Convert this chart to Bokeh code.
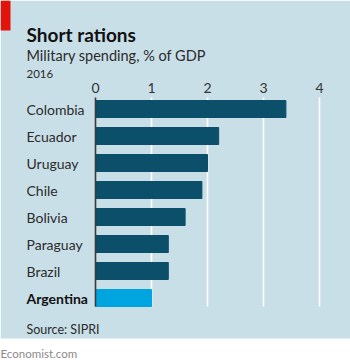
from bokeh.plotting import figure
from bokeh.models import Range1d, Label, BoxAnnotation, ColumnDataSource
from bokeh.embed import file_html
from bokeh.resources import INLINE
from bokeh.core.properties import value

# ---- data ----
countries = ["Colombia", "Ecuador", "Uruguay", "Chile", "Bolivia", "Paraguay", "Brazil", "Argentina"]
spending = [3.4, 2.2, 2.0, 1.9, 1.6, 1.3, 1.3, 1.0]
highlight = "Argentina"
tick_values = [0, 1, 2, 3, 4]
tick_labels = ["0", "1", "2", "3", "4"]

title_text = "Short rations"
subtitle_text = "Military spending, % of GDP"
year_text = "2016"
source_text = "Source: SIPRI"
credit_text = "Economist.com"

# ---- style / layout ----
W, H = 350, 360
X0_PX, PX_PER_UNIT = 95, 56          # pixel of value 0, pixels per unit
ROW0_PX, ROW_PX = 108.5, 27          # pixel centre of first row, row pitch
BAR_PX = 17
FONT = "Lato"
BG = "#c9dfe8"
DARK = "#0b4f6b"
LIGHT = "#00a5df"
RED = "#e3120b"

def vx(px):
    return (px - X0_PX) / PX_PER_UNIT

def vy(py):
    return (py - ROW0_PX) / ROW_PX

p = figure(width=W, height=H, output_backend="svg", toolbar_location=None,
           x_range=Range1d(vx(0), vx(W)), y_range=Range1d(vy(H), vy(0)),
           min_border=0, min_border_left=0, min_border_right=0,
           min_border_top=0, min_border_bottom=0)
p.axis.visible = False
p.grid.visible = False
p.outline_line_color = None
p.background_fill_color = "white"
p.border_fill_color = "white"

# blue panel
p.add_layout(BoxAnnotation(left=0, right=W, top=H, bottom=H - 338,
                           left_units="screen", right_units="screen",
                           top_units="screen", bottom_units="screen",
                           fill_color=BG, fill_alpha=1, line_color=None,
                           level="underlay"))
# red tag
p.add_layout(BoxAnnotation(left=0, right=10, top=H, bottom=H - 30,
                           left_units="screen", right_units="screen",
                           top_units="screen", bottom_units="screen",
                           fill_color=RED, fill_alpha=1, line_color=None,
                           level="overlay"))

rows = list(range(len(countries)))
top_y = vy(97)
bottom_y = rows[-1] + (BAR_PX / ROW_PX) / 2

# grid lines
grid_x = [t for t in tick_values if t != 0]
p.segment(x0=grid_x, x1=grid_x, y0=[top_y] * len(grid_x), y1=[bottom_y] * len(grid_x),
          line_color="white", line_width=1.6)

colors = [LIGHT if c == highlight else DARK for c in countries]
src = ColumnDataSource(dict(y=rows, right=spending, color=colors, name=countries,
                            style=["bold" if c == highlight else "normal" for c in countries],
                            tcolor=["#111111" if c == highlight else "#2b2b2b" for c in countries]))
p.hbar(y="y", left=0, right="right", height=BAR_PX / ROW_PX, color="color", source=src)

# zero axis line
p.segment(x0=[0], x1=[0], y0=[top_y], y1=[bottom_y], line_color="#3a3a3a", line_width=1.6)

# country labels
p.text(x=vx(26), y="y", text="name", source=src, text_font=value(FONT),
       text_font_size="14px", text_font_style="style", text_color="tcolor",
       text_baseline="middle", text_align="left")

# tick labels
p.text(x=tick_values, y=[vy(87)] * len(tick_values), text=tick_labels,
       text_font=value(FONT), text_font_size="14px", text_color="#333333",
       text_align="center", text_baseline="alphabetic")

def lab(text, px, py, size, color, style="normal"):
    p.add_layout(Label(x=px, y=H - py, x_units="screen", y_units="screen", text=text,
                       text_font=FONT, text_font_size=size, text_color=color,
                       text_font_style=style, text_baseline="alphabetic", text_align="left"))

lab(title_text, 26, 34, "19px", "#111111", "bold")
lab(subtitle_text, 26, 54.5, "14.5px", "#2b2b2b")
lab(year_text, 26, 73, "11.5px", "#2b2b2b")
lab(source_text, 26, 329, "12.5px", "#2b2b2b")
lab(credit_text, 0, 353, "11.5px", "#8a8a8a")

open("out.html", "w").write(file_html(p, INLINE))
